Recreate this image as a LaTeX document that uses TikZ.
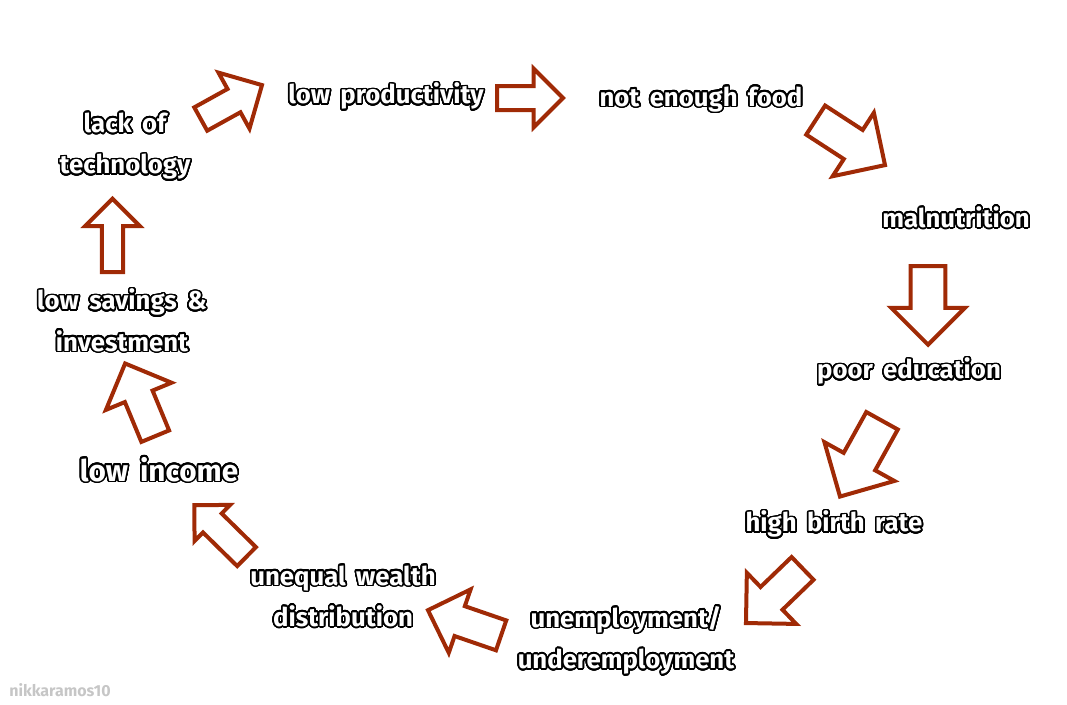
\documentclass[tikz,border=0pt]{standalone}
\usepackage{fontspec}
\setmainfont{Fira Sans}[WordSpace=1.7]
\usepackage{contour}
\contourlength{1.2pt}
\contournumber{32}
\usetikzlibrary{shapes.arrows}
\definecolor{arrowred}{RGB}{160,42,6}
\newcommand{\outl}[1]{\contour{black}{#1}}

\begin{document}
\begin{tikzpicture}[x=0.75pt,y=-0.75pt,
    lbl/.style={text=white,font=\bfseries\fontsize{19.3}{31}\selectfont,align=center,inner sep=0pt},
    blk/.style n args={4}{single arrow,draw=arrowred,line width=3pt,fill=white,inner sep=0pt,
      anchor=tail,rotate=#1,minimum height=#2,text height=#3,text depth=0pt,single arrow head extend=#4}]
    \useasboundingbox (0,0) rectangle (1067,704);
    \node[lbl] (tech) at (125,147) {\outl{lack of}\\\outl{technology}};
    \node[lbl] (prod) at (386,97) {\outl{low productivity}};
    \node[lbl] (food) at (701,100) {\outl{not enough food}};
    \node[lbl] (maln) at (956,218) {\outl{malnutrition}};
    \node[lbl] (educ) at (909,372) {\outl{poor education}};
    \node[lbl] (birth) at (834,525) {\outl{high birth rate}};
    \node[lbl] (unemp) at (626,641) {\outl{unemployment/}\\\outl{underemployment}};
    \node[lbl] (wealth) at (343,597) {\outl{unequal wealth}\\\outl{distribution}};
    \node[lbl,font=\bfseries\fontsize{22.3}{26}\selectfont] (income) at (159,470) {\outl{low income}};
    \node[lbl] (sav) at (122,321) {\outl{low savings \&}\\\outl{investment}};
    \node[text=gray!45,font=\bfseries\fontsize{12}{14}\selectfont,inner sep=0pt] (mark) at (60,690) {nikkaramos10};
    \node[blk={29}{52.5pt}{17pt}{14pt}] (a1) at (199,120) {};
    \node[blk={0}{49.5pt}{15pt}{13pt}] (a2) at (495,98) {};
    \node[blk={-33}{62pt}{23pt}{15.4pt}] (a3) at (814,119) {};
    \node[blk={-90}{59pt}{23pt}{14.6pt}] (a4) at (928,264) {};
    \node[blk={-119}{65pt}{24pt}{16.5pt}] (a5) at (883,419) {};
    \node[blk={-136}{59pt}{20.7pt}{14.8pt}] (a6) at (804,567) {};
    \node[blk={161}{58pt}{20.7pt}{13.3pt}] (a7) at (503,636) {};
    \node[blk={135.5}{55pt}{17pt}{9pt}] (a8) at (248,558) {};
    \node[blk={112.5}{59pt}{19.5pt}{15.4pt}] (a9) at (156,438) {};
    \node[blk={90}{55pt}{13pt}{12.5pt}] (a10) at (112.5,274) {};
\end{tikzpicture}
\end{document}
